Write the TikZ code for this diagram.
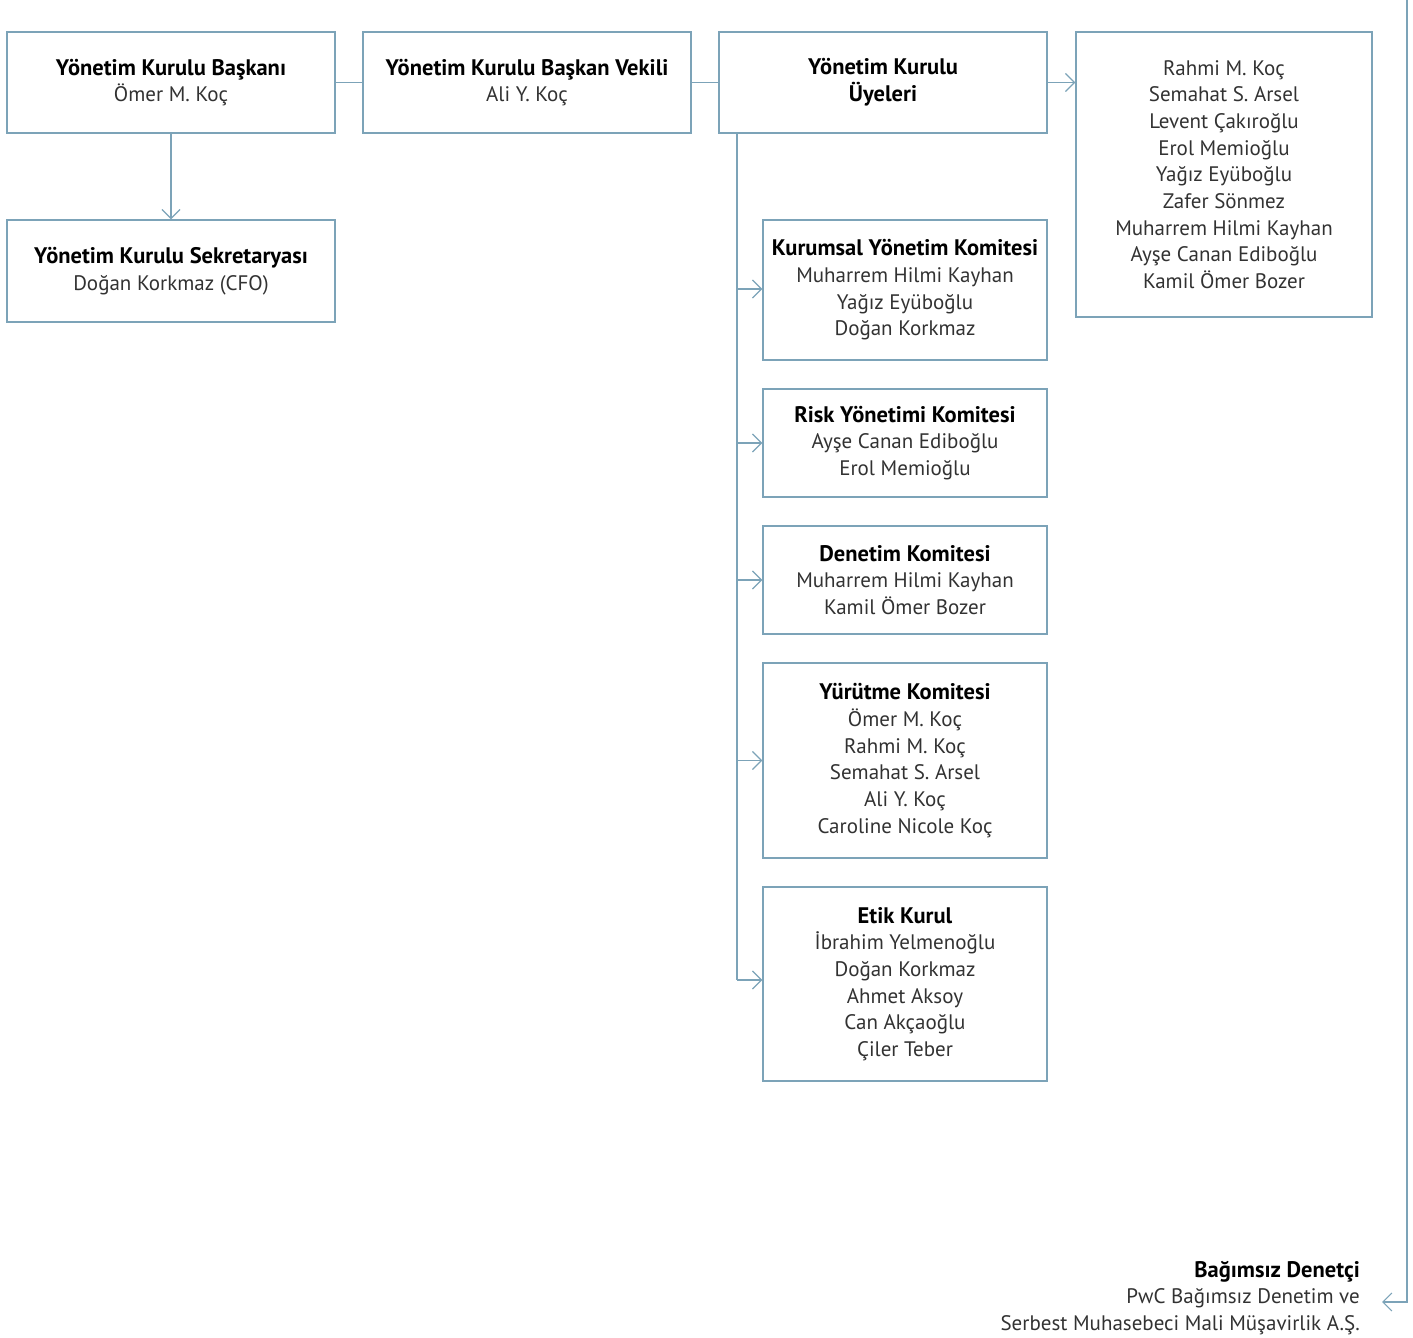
\documentclass[tikz,border=0pt]{standalone}
\usepackage{fontspec}
\setmainfont{PT Sans}
\usetikzlibrary{arrows.meta}
\definecolor{edge}{RGB}{124,163,184}
\definecolor{nm}{RGB}{50,50,50}
\tikzset{
  box/.style={draw=edge, line width=1.4pt, minimum width=#1, inner sep=0pt, align=center, font=\fontsize{21}{26.7}\selectfont},
  conn/.style={draw=edge, line width=1.4pt},
  arr/.style={conn, -{Straight Barb[length=9pt,width=18pt,line width=1.2pt]}},
}
\newcommand{\hd}[1]{{\fontsize{22.5}{26.7}\selectfont\bfseries #1}}
\newcommand{\nmx}[1]{\textcolor{nm}{#1}}
\begin{document}
\begin{tikzpicture}[x=1pt,y=-1pt]
\useasboundingbox (0,0) rectangle (1413,1338);
\node[box=328pt, minimum height=101pt] (b1) at (171,82.5) {\hd{Yönetim Kurulu Başkanı}\\\nmx{Ömer M. Koç}};
\node[box=328pt, minimum height=101pt] (b2) at (527,82.5) {\hd{Yönetim Kurulu Başkan Vekili}\\\nmx{Ali Y. Koç}};
\node[box=328pt, minimum height=101pt] (b3) at (883,82.5) {\hd{Yönetim Kurulu}\\\hd{Üyeleri}};
\node[box=296pt, minimum height=285pt] (b4) at (1224,174.5) {\nmx{Rahmi M. Koç}\\\nmx{Semahat S. Arsel}\\\nmx{Levent Çakıroğlu}\\\nmx{Erol Memioğlu}\\\nmx{Yağız Eyüboğlu}\\\nmx{Zafer Sönmez}\\\nmx{Muharrem Hilmi Kayhan}\\\nmx{Ayşe Canan Ediboğlu}\\\nmx{Kamil Ömer Bozer}};
\node[box=328pt, minimum height=102pt] (sek) at (171,271) {\hd{Yönetim Kurulu Sekretaryası}\\\nmx{Doğan Korkmaz (CFO)}};
\node[box=284pt, minimum height=140pt] (k1) at (905,290) {\hd{Kurumsal Yönetim Komitesi}\\\nmx{Muharrem Hilmi Kayhan}\\\nmx{Yağız Eyüboğlu}\\\nmx{Doğan Korkmaz}};
\node[box=284pt, minimum height=108pt] (k2) at (905,443) {\hd{Risk Yönetimi Komitesi}\\\nmx{Ayşe Canan Ediboğlu}\\\nmx{Erol Memioğlu}};
\node[box=284pt, minimum height=108pt] (k3) at (905,580) {\hd{Denetim Komitesi}\\\nmx{Muharrem Hilmi Kayhan}\\\nmx{Kamil Ömer Bozer}};
\node[box=284pt, minimum height=195pt] (k4) at (905,760.5) {\hd{Yürütme Komitesi}\\\nmx{Ömer M. Koç}\\\nmx{Rahmi M. Koç}\\\nmx{Semahat S. Arsel}\\\nmx{Ali Y. Koç}\\\nmx{Caroline Nicole Koç}};
\node[box=284pt, minimum height=194pt] (k5) at (905,984) {\hd{Etik Kurul}\\\nmx{İbrahim Yelmenoğlu}\\\nmx{Doğan Korkmaz}\\\nmx{Ahmet Aksoy}\\\nmx{Can Akçaoğlu}\\\nmx{Çiler Teber}};
\node[anchor=east, align=right, inner sep=0pt, font=\fontsize{21}{26.7}\selectfont] (aud) at (1360,1298) {\hd{Bağımsız Denetçi}\\\nmx{PwC Bağımsız Denetim ve}\\\nmx{Serbest Muhasebeci Mali Müşavirlik A.Ş.}};
\coordinate (sp) at (737,133);
\coordinate (top) at (1407,-2);
\coordinate (tip) at (1382,1302);
\draw[conn] (b1) -- (b2);
\draw[conn] (b2) -- (b3);
\draw[arr] (b3) -- (b4.west |- b3);
\draw[arr] (b1) -- (sek);
\draw[conn] (sp) -- (sp |- 0,980);
\draw[arr] (sp |- 0,289) -- (k1.west |- 0,289);
\draw[arr] (sp |- k2.west) -- (k2.west);
\draw[arr] (sp |- k3.west) -- (k3.west);
\draw[arr] (sp |- k4.west) -- (k4.west);
\draw[arr] (sp |- 0,980) -- (k5.west |- 0,980);
\draw[arr] (top) |- (tip);
\end{tikzpicture}
\end{document}
